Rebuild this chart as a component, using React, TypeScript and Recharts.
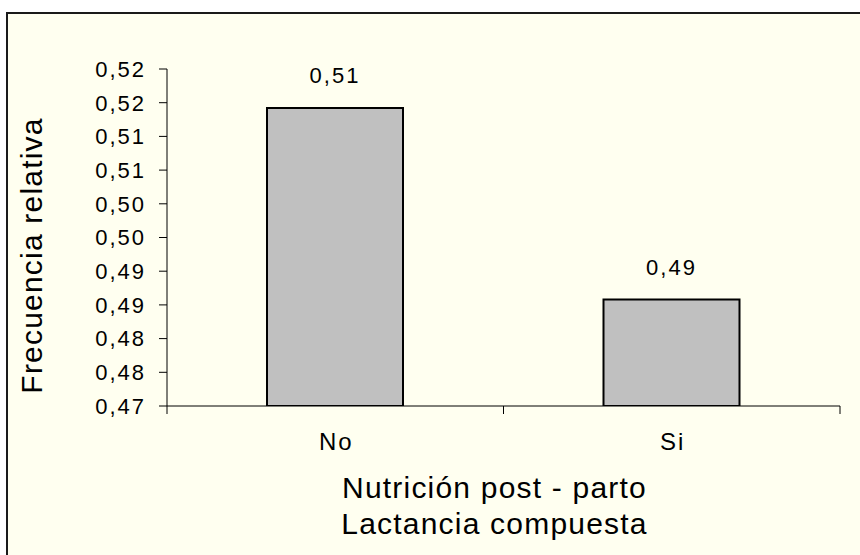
import { Bar, BarChart, Label, LabelList, XAxis, YAxis } from 'recharts'

const categories = ['No', 'Si']
const frecuencia = [0.5142, 0.4858]
const barLabels = ['0,51', '0,49']
const yTicks = [0.47, 0.475, 0.48, 0.485, 0.49, 0.495, 0.5, 0.505, 0.51, 0.515, 0.52]
const yTickLabels = ['0,47', '0,48', '0,48', '0,49', '0,49', '0,50', '0,50', '0,51', '0,51', '0,52', '0,52']
const edgeTicks = [0, 1, 2]
const xTitle = ['Nutrición post - parto', 'Lactancia compuesta']
const yTitle = 'Frecuencia relativa'

const FONT = "'Liberation Sans', Arial, sans-serif"

const data = categories.map((name, i) => ({ name, value: frecuencia[i], label: barLabels[i] }))

function YTitle(props: any) {
  const { x, y, height } = props.viewBox
  const cx = x - 25
  const cy = y + height / 2 + 18
  return (
    <text
      transform={`translate(${cx},${cy}) rotate(-90)`}
      textAnchor="middle"
      fontFamily={FONT}
      fontSize={30}
      letterSpacing={1.2}
      fill="#000"
    >
      {yTitle}
    </text>
  )
}

function XTitle(props: any) {
  const { x, y, width } = props.viewBox
  const cx = x + width / 2 - 9
  return (
    <text textAnchor="middle" fontFamily={FONT} fontSize={30} letterSpacing={1.2} fill="#000">
      <tspan x={cx} y={y + 92}>{xTitle[0]}</tspan>
      <tspan x={cx} y={y + 128}>{xTitle[1]}</tspan>
    </text>
  )
}

// category label plus the small tick marks at the category edges
function CatTick(props: any) {
  const { x, y, payload } = props
  const half = payload?.offset ?? 0
  const axisY = y - 28
  return (
    <g>
      {half > 0 && (
        <>
          <line x1={x - half} x2={x - half} y1={axisY} y2={axisY + 8} stroke="#000" />
          <line x1={x + half} x2={x + half} y1={axisY} y2={axisY + 8} stroke="#000" />
        </>
      )}
      <text x={x + 1} y={y + 16} textAnchor="middle" fill="#000" fontSize={24} fontFamily={FONT} letterSpacing={2}>
        {payload.value}
      </text>
    </g>
  )
}

export default function App() {
  return (
    <div style={{ position: 'absolute', left: 0, top: 0, width: 860, height: 555, background: '#fff', overflow: 'hidden' }}>
      <div style={{ position: 'absolute', left: 6, top: 12, width: 900, height: 600, border: '2px solid #1a1a1a', background: '#FFFFF0' }} />
      <div style={{ position: 'absolute', left: 0, top: 0 }}>
        <BarChart width={860} height={555} data={data} margin={{ top: 69, right: 20, left: 67, bottom: 89 }}>
          <XAxis
            xAxisId="edge"
            type="number"
            domain={[0, 2]}
            ticks={edgeTicks}
            allowDataOverflow
            axisLine={false}
            tick={false}
            tickSize={8}
            tickLine={{ stroke: '#000' }}
            height={0}
          />
          <XAxis
            xAxisId="cat"
            dataKey="name"
            axisLine={{ stroke: '#000' }}
            tickLine={false}
            tickSize={0}
            tickMargin={28}
            height={60}
            tick={CatTick}
          >
            <Label content={XTitle} />
          </XAxis>
          <YAxis
            domain={[0.47, 0.52]}
            ticks={yTicks}
            allowDataOverflow
            interval={0}
            tickFormatter={(v: number) => yTickLabels[yTicks.indexOf(v)]}
            width={100}
            tickSize={8}
            tickMargin={13}
            axisLine={{ stroke: '#000' }}
            tickLine={{ stroke: '#000' }}
            tick={{ fill: '#000', fontSize: 22, fontFamily: FONT, letterSpacing: 2 }}
          >
            <Label content={YTitle} />
          </YAxis>
          <Bar xAxisId="cat" dataKey="value" barSize={136} fill="#C0C0C0" stroke="#000" strokeWidth={2} isAnimationActive={false}>
            <LabelList dataKey="label" position="top" offset={25} fill="#000" fontSize={22} fontFamily={FONT} letterSpacing={2} />
          </Bar>
        </BarChart>
      </div>
    </div>
  )
}
